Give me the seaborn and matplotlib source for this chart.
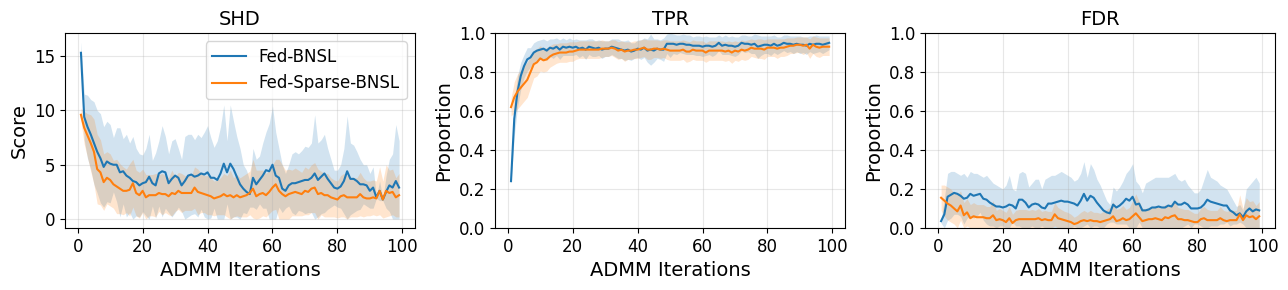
import numpy as np
import matplotlib
matplotlib.use("Agg")
import matplotlib.pyplot as plt
import seaborn as sns

# ---- data (mean and std per ADMM iteration) ----
iters = list(range(1, 100))
methods = ["Fed-BNSL", "Fed-Sparse-BNSL"]

shd_bnsl = [15.3, 9.4, 8.5, 7.8, 7.0, 6.2, 5.6, 4.8, 5.3, 5.1, 5.0, 5.0, 4.3, 4.4, 4.0, 3.8, 3.5, 3.4, 3.1, 3.3,
            3.4, 3.9, 3.3, 3.1, 4.2, 4.4, 4.3, 3.3, 3.7, 4.0, 3.8, 3.1, 3.5, 4.0, 4.1, 3.9, 4.0, 4.2, 4.1, 4.3,
            3.8, 3.8, 3.6, 4.2, 5.1, 4.3, 5.1, 4.6, 3.9, 3.2, 2.8, 2.5, 2.3, 3.8, 3.2, 3.6, 4.0, 4.5, 4.4, 5.0,
            4.0, 3.8, 2.8, 2.6, 3.1, 3.3, 3.3, 3.4, 3.5, 3.6, 3.6, 3.8, 4.2, 3.6, 3.9, 4.2, 3.7, 3.3, 2.9, 2.8,
            3.0, 3.5, 4.4, 3.7, 3.7, 3.5, 3.2, 3.2, 3.1, 2.6, 2.9, 2.0, 2.6, 1.8, 2.5, 3.1, 2.9, 3.5, 2.9]
shd_bnsl_sd = [1.0, 2.1, 2.9, 3.2, 3.8, 3.8, 4.1, 3.7, 3.7, 3.6, 2.5, 3.4, 4.1, 3.0, 3.8, 3.2, 4.1, 3.1, 2.9, 2.6,
               3.1, 3.9, 2.1, 3.0, 3.0, 4.2, 3.3, 2.7, 3.5, 3.4, 2.7, 2.4, 4.1, 3.8, 3.7, 3.4, 3.8, 3.3, 3.9, 4.3,
               3.7, 2.8, 3.6, 4.3, 5.4, 2.9, 5.4, 4.4, 3.7, 3.3, 2.2, 2.0, 1.2, 2.7, 2.3, 2.2, 3.0, 3.5, 4.4, 5.4,
               4.0, 2.7, 2.2, 1.6, 1.9, 2.7, 2.9, 2.6, 2.8, 3.1, 3.0, 3.2, 5.4, 3.4, 3.4, 3.6, 2.8, 2.2, 1.6, 1.7,
               2.0, 3.0, 5.1, 3.3, 3.1, 2.7, 2.3, 1.8, 1.9, 1.6, 1.9, 0.1, 0.9, 0.1, 1.5, 2.4, 3.1, 5.2, 4.3]
shd_sparse = [9.6, 8.4, 7.7, 7.0, 6.2, 4.6, 4.3, 3.4, 3.8, 3.6, 3.2, 3.0, 2.8, 2.6, 2.6, 2.7, 3.3, 2.4, 2.2, 2.6,
              2.0, 2.2, 2.2, 2.2, 2.4, 2.3, 2.3, 2.1, 2.4, 2.3, 2.6, 2.4, 2.4, 2.4, 2.4, 2.9, 2.5, 2.4, 2.3, 2.2,
              2.1, 1.9, 2.0, 2.1, 2.3, 2.1, 2.2, 2.0, 2.2, 2.0, 2.1, 2.2, 2.4, 2.8, 2.1, 2.3, 2.4, 2.2, 2.5, 2.9,
              3.2, 2.6, 2.3, 2.1, 2.3, 2.4, 2.5, 2.4, 2.3, 2.6, 2.5, 2.8, 2.9, 2.3, 2.4, 2.2, 2.2, 2.0, 1.9, 1.8,
              2.1, 2.2, 2.0, 2.0, 2.0, 2.0, 2.3, 2.0, 1.9, 1.9, 2.0, 1.9, 2.6, 1.8, 2.6, 2.4, 2.5, 2.0, 2.2]
shd_sparse_sd = [0.6, 1.5, 2.0, 2.6, 3.0, 3.2, 3.0, 2.6, 2.4, 2.4, 2.2, 2.5, 2.3, 2.2, 2.0, 2.4, 2.2, 2.1, 2.1, 2.0,
                 2.1, 1.9, 1.9, 2.0, 1.7, 1.9, 1.7, 1.7, 2.1, 1.6, 1.7, 1.8, 1.6, 1.6, 1.6, 1.9, 2.1, 1.8, 1.7, 1.8,
                 1.7, 1.6, 1.6, 1.7, 1.9, 1.9, 2.3, 1.8, 1.9, 1.8, 1.9, 2.0, 2.0, 2.7, 2.4, 2.2, 2.1, 2.0, 2.0, 2.1,
                 2.3, 2.9, 2.7, 2.4, 2.3, 2.1, 2.2, 2.1, 2.0, 2.2, 2.1, 2.2, 2.3, 2.3, 2.0, 2.0, 2.0, 1.8, 1.7, 1.7,
                 1.9, 2.0, 2.0, 1.8, 1.8, 1.8, 2.0, 1.8, 1.6, 1.6, 1.6, 1.6, 2.2, 1.7, 2.4, 2.1, 2.1, 1.8, 2.0]

tpr_bnsl = [0.24, 0.56, 0.70, 0.78, 0.83, 0.865, 0.875, 0.90, 0.91, 0.915, 0.92, 0.91, 0.925, 0.92, 0.93, 0.915, 0.93, 0.925, 0.93, 0.925,
            0.93, 0.92, 0.925, 0.915, 0.93, 0.925, 0.92, 0.925, 0.915, 0.92, 0.92, 0.93, 0.925, 0.92, 0.915, 0.91, 0.915, 0.905, 0.91, 0.92,
            0.915, 0.925, 0.91, 0.915, 0.91, 0.92, 0.915, 0.915, 0.945, 0.945, 0.945, 0.94, 0.945, 0.945, 0.94, 0.94, 0.935, 0.935, 0.935, 0.93,
            0.935, 0.935, 0.93, 0.935, 0.95, 0.935, 0.94, 0.935, 0.935, 0.93, 0.935, 0.95, 0.945, 0.945, 0.94, 0.945, 0.93, 0.935, 0.94, 0.94,
            0.935, 0.945, 0.935, 0.94, 0.95, 0.945, 0.945, 0.94, 0.945, 0.94, 0.94, 0.935, 0.945, 0.94, 0.945, 0.945, 0.94, 0.945, 0.95]
tpr_bnsl_sd = [0.01, 0.09, 0.08, 0.07, 0.06, 0.06, 0.05, 0.05, 0.05, 0.05, 0.05, 0.05, 0.045, 0.05, 0.045, 0.05, 0.045, 0.04, 0.045, 0.04,
               0.04, 0.045, 0.04, 0.05, 0.04, 0.045, 0.04, 0.04, 0.045, 0.04, 0.04, 0.04, 0.045, 0.05, 0.045, 0.05, 0.05, 0.045, 0.04, 0.045,
               0.05, 0.05, 0.06, 0.08, 0.06, 0.05, 0.05, 0.06, 0.05, 0.07, 0.05, 0.05, 0.045, 0.05, 0.05, 0.05, 0.045, 0.05, 0.05, 0.05,
               0.05, 0.045, 0.05, 0.045, 0.04, 0.045, 0.05, 0.045, 0.05, 0.05, 0.045, 0.04, 0.045, 0.04, 0.045, 0.05, 0.06, 0.05, 0.045, 0.045,
               0.05, 0.045, 0.045, 0.04, 0.04, 0.045, 0.04, 0.045, 0.04, 0.045, 0.04, 0.045, 0.04, 0.045, 0.045, 0.04, 0.045, 0.04, 0.035]
tpr_sparse = [0.62, 0.67, 0.70, 0.72, 0.74, 0.76, 0.80, 0.84, 0.85, 0.87, 0.86, 0.865, 0.88, 0.89, 0.895, 0.90, 0.90, 0.90, 0.905, 0.905,
              0.91, 0.915, 0.915, 0.915, 0.915, 0.915, 0.915, 0.915, 0.92, 0.92, 0.92, 0.925, 0.92, 0.91, 0.915, 0.905, 0.91, 0.91, 0.915, 0.915,
              0.92, 0.925, 0.915, 0.915, 0.92, 0.92, 0.915, 0.92, 0.915, 0.91, 0.91, 0.91, 0.91, 0.915, 0.905, 0.905, 0.915, 0.91, 0.91, 0.91,
              0.90, 0.91, 0.91, 0.91, 0.91, 0.91, 0.905, 0.91, 0.90, 0.91, 0.905, 0.915, 0.91, 0.915, 0.925, 0.92, 0.92, 0.92, 0.915, 0.925,
              0.925, 0.925, 0.92, 0.925, 0.925, 0.93, 0.935, 0.935, 0.94, 0.94, 0.935, 0.94, 0.92, 0.94, 0.93, 0.925, 0.93, 0.93, 0.93]
tpr_sparse_sd = [0.045, 0.08, 0.09, 0.09, 0.09, 0.09, 0.08, 0.07, 0.07, 0.065, 0.06, 0.06, 0.055, 0.055, 0.05, 0.05, 0.05, 0.05, 0.05, 0.05,
                 0.045, 0.045, 0.045, 0.045, 0.045, 0.045, 0.045, 0.045, 0.045, 0.04, 0.04, 0.04, 0.045, 0.045, 0.045, 0.05, 0.045, 0.045, 0.045, 0.045,
                 0.045, 0.045, 0.05, 0.05, 0.045, 0.045, 0.045, 0.045, 0.05, 0.05, 0.05, 0.05, 0.05, 0.05, 0.055, 0.05, 0.05, 0.05, 0.05, 0.05,
                 0.05, 0.05, 0.05, 0.05, 0.05, 0.05, 0.05, 0.05, 0.055, 0.05, 0.05, 0.05, 0.05, 0.05, 0.045, 0.045, 0.05, 0.05, 0.05, 0.045,
                 0.045, 0.045, 0.05, 0.045, 0.045, 0.045, 0.04, 0.04, 0.04, 0.04, 0.045, 0.04, 0.05, 0.045, 0.05, 0.05, 0.045, 0.045, 0.045]

fdr_bnsl = [0.035, 0.07, 0.16, 0.17, 0.18, 0.175, 0.165, 0.15, 0.155, 0.175, 0.165, 0.17, 0.175, 0.15, 0.145, 0.13, 0.12, 0.11, 0.11, 0.105,
            0.11, 0.12, 0.115, 0.10, 0.145, 0.145, 0.13, 0.105, 0.12, 0.125, 0.12, 0.105, 0.10, 0.125, 0.125, 0.13, 0.135, 0.14, 0.135, 0.135,
            0.13, 0.125, 0.115, 0.14, 0.175, 0.14, 0.165, 0.155, 0.13, 0.11, 0.09, 0.08, 0.075, 0.12, 0.105, 0.115, 0.13, 0.15, 0.14, 0.16,
            0.12, 0.125, 0.09, 0.09, 0.095, 0.105, 0.105, 0.11, 0.105, 0.105, 0.115, 0.11, 0.135, 0.12, 0.12, 0.13, 0.12, 0.10, 0.10, 0.10,
            0.105, 0.12, 0.145, 0.135, 0.13, 0.125, 0.12, 0.115, 0.115, 0.09, 0.08, 0.065, 0.075, 0.055, 0.085, 0.10, 0.085, 0.095, 0.09]
fdr_bnsl_sd = [0.01, 0.08, 0.12, 0.12, 0.11, 0.105, 0.105, 0.13, 0.105, 0.115, 0.115, 0.11, 0.095, 0.11, 0.125, 0.12, 0.11, 0.11, 0.10, 0.095,
               0.11, 0.15, 0.085, 0.09, 0.135, 0.145, 0.15, 0.105, 0.11, 0.125, 0.13, 0.095, 0.15, 0.135, 0.145, 0.14, 0.145, 0.15, 0.145, 0.135,
               0.13, 0.115, 0.135, 0.14, 0.165, 0.12, 0.165, 0.145, 0.12, 0.11, 0.09, 0.06, 0.045, 0.09, 0.085, 0.095, 0.11, 0.13, 0.16, 0.17,
               0.12, 0.095, 0.09, 0.14, 0.145, 0.145, 0.155, 0.15, 0.155, 0.155, 0.145, 0.16, 0.145, 0.13, 0.12, 0.12, 0.10, 0.10, 0.08, 0.08,
               0.095, 0.13, 0.155, 0.125, 0.12, 0.115, 0.10, 0.095, 0.085, 0.08, 0.06, 0.045, 0.045, 0.035, 0.115, 0.12, 0.155, 0.165, 0.14]
fdr_sparse = [0.155, 0.14, 0.125, 0.115, 0.10, 0.085, 0.115, 0.065, 0.08, 0.05, 0.06, 0.055, 0.055, 0.055, 0.05, 0.05, 0.065, 0.04, 0.045, 0.04,
              0.03, 0.05, 0.025, 0.04, 0.045, 0.045, 0.045, 0.045, 0.045, 0.045, 0.05, 0.04, 0.045, 0.04, 0.04, 0.07, 0.05, 0.045, 0.04, 0.035,
              0.03, 0.02, 0.025, 0.035, 0.04, 0.035, 0.04, 0.035, 0.035, 0.03, 0.035, 0.04, 0.045, 0.06, 0.035, 0.04, 0.05, 0.04, 0.045, 0.06,
              0.075, 0.055, 0.035, 0.04, 0.045, 0.045, 0.05, 0.045, 0.04, 0.055, 0.05, 0.06, 0.065, 0.045, 0.045, 0.04, 0.04, 0.035, 0.03, 0.03,
              0.045, 0.05, 0.04, 0.04, 0.04, 0.04, 0.05, 0.04, 0.035, 0.04, 0.04, 0.04, 0.07, 0.04, 0.065, 0.055, 0.06, 0.045, 0.06]
fdr_sparse_sd = [0.065, 0.08, 0.085, 0.085, 0.08, 0.085, 0.075, 0.065, 0.07, 0.07, 0.07, 0.065, 0.065, 0.065, 0.06, 0.06, 0.075, 0.05, 0.055, 0.05,
                 0.05, 0.06, 0.045, 0.05, 0.05, 0.05, 0.05, 0.045, 0.05, 0.045, 0.05, 0.045, 0.045, 0.045, 0.045, 0.06, 0.055, 0.05, 0.045, 0.045,
                 0.04, 0.035, 0.04, 0.045, 0.05, 0.045, 0.05, 0.045, 0.045, 0.045, 0.05, 0.055, 0.06, 0.075, 0.06, 0.06, 0.065, 0.055, 0.06, 0.08,
                 0.10, 0.08, 0.065, 0.06, 0.06, 0.06, 0.065, 0.06, 0.06, 0.065, 0.06, 0.065, 0.07, 0.06, 0.055, 0.055, 0.055, 0.05, 0.045, 0.045,
                 0.055, 0.06, 0.055, 0.05, 0.05, 0.05, 0.06, 0.05, 0.05, 0.05, 0.05, 0.05, 0.10, 0.06, 0.09, 0.08, 0.08, 0.07, 0.075]

panels = [
    ("SHD", "Score", (shd_bnsl, shd_bnsl_sd), (shd_sparse, shd_sparse_sd), None),
    ("TPR", "Proportion", (tpr_bnsl, tpr_bnsl_sd), (tpr_sparse, tpr_sparse_sd), 1.0),
    ("FDR", "Proportion", (fdr_bnsl, fdr_bnsl_sd), (fdr_sparse, fdr_sparse_sd), 1.0),
]

fig, axes = plt.subplots(1, 3, figsize=(12.88, 2.9), dpi=100)
fig.subplots_adjust(left=0.0505, right=0.99, bottom=0.214, top=0.886, wspace=0.229)

for ax, (title, ylabel, s1, s2, upper) in zip(axes, panels):
    for (mean, sd), name, color in zip([s1, s2], methods, ["C0", "C1"]):
        mean = np.array(mean)
        sd = np.array(sd)
        lo = np.clip(mean - sd, 0, upper)
        hi = np.clip(mean + sd, 0, upper)
        sns.lineplot(x=iters, y=mean, ax=ax, color=color, label=name, linewidth=1.5)
        ax.fill_between(iters, lo, hi, color=color, alpha=0.2, linewidth=0)
    ax.set_title(title, fontsize=14)
    ax.set_xlabel("ADMM Iterations", fontsize=14)
    ax.set_ylabel(ylabel, fontsize=14)
    ax.tick_params(labelsize=12)
    ax.grid(True, alpha=0.3)
    if upper is not None:
        ax.set_ylim(0, 1)
    ax.set_xticks([0, 20, 40, 60, 80, 100])

axes[0].legend(loc="upper right", fontsize=12)
axes[1].get_legend().remove()
axes[2].get_legend().remove()

fig.savefig("out.png", dpi=100)
